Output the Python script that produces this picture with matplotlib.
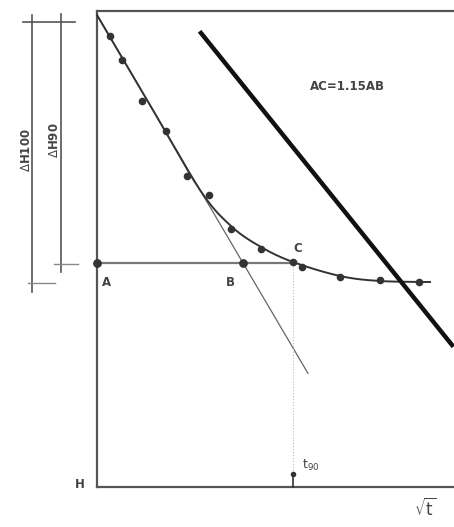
import numpy as np
import matplotlib
matplotlib.use('Agg')
import matplotlib.pyplot as plt

# measured points (sqrt(t) position, dial reading) in drawing units
sqrt_t = [110, 122, 142, 166, 187, 209, 231, 261, 293, 302, 340, 380, 419]
reading = [36, 60, 101, 131, 176, 195, 229, 249, 262, 267, 277, 280, 282]

# hand-drawn fitted curve through the readings
curve_x = [97, 150, 200, 231, 261, 293, 340, 380, 430]
curve_y = [15, 105, 190, 226, 247, 262, 276, 281, 282]

# key points
A = (97, 263)
B = (243, 263)
C = (293, 263)
tangent_start = (97, 15)
thick_line = [(201, 33), (452, 345)]


def catmull(xs, ys, n=16):
    # smooth drawing line through the control points
    px = np.r_[xs[0], xs, xs[-1]]
    py = np.r_[ys[0], ys, ys[-1]]
    ox, oy = [], []
    for i in range(1, len(px) - 2):
        t = np.linspace(0, 1, n, endpoint=False)
        for p, o in ((px, ox), (py, oy)):
            p0, p1, p2, p3 = p[i - 1], p[i], p[i + 1], p[i + 2]
            o.extend(0.5 * (2 * p1 + (-p0 + p2) * t + (2 * p0 - 5 * p1 + 4 * p2 - p3) * t ** 2
                            + (-p0 + 3 * p1 - 3 * p2 + p3) * t ** 3))
    ox.append(xs[-1])
    oy.append(ys[-1])
    return ox, oy


fig = plt.figure(figsize=(4.54, 5.27), dpi=100)
ax = fig.add_axes([0, 0, 1, 1])
ax.set_xlim(0, 454)
ax.set_ylim(527, 0)
ax.axis('off')

grey = '#555555'
# frame
ax.plot([97, 97], [11, 487], color=grey, lw=1.6)
ax.plot([97, 454], [11, 11], color=grey, lw=1.6)
ax.plot([97, 454], [487, 487], color=grey, lw=1.6)

# dimension lines dH100 / dH90
ax.plot([32, 32], [15, 292], color=grey, lw=1.2)
ax.plot([23, 75], [22, 22], color=grey, lw=1.2)
ax.plot([28, 55], [283, 283], color='#888888', lw=1.0)
ax.plot([61, 61], [14, 272], color=grey, lw=1.2)
ax.plot([54, 78], [264, 264], color='#888888', lw=1.0)
ax.text(26, 150, '$\\Delta$H100', rotation=90, ha='center', va='center',
        fontsize=8.5, fontweight='bold', color='#444444')
ax.text(55, 140, '$\\Delta$H90', rotation=90, ha='center', va='center',
        fontsize=8.5, fontweight='bold', color='#444444')

# horizontal A-C
ax.plot([A[0], C[0]], [A[1], C[1]], color='#777777', lw=1.6)

# tangent line through B
slope = (B[1] - tangent_start[1]) / (B[0] - tangent_start[0])
ax.plot([tangent_start[0], 308], [tangent_start[1], tangent_start[1] + slope * (308 - tangent_start[0])],
        color='#666666', lw=0.9)

# t90 vertical dotted
ax.plot([C[0], C[0]], [C[1], 473], color='#bbbbbb', lw=0.8, ls=':')
ax.plot([C[0], C[0]], [473, 487], color='#333333', lw=1.2)
ax.plot(C[0], 474, marker='o', ms=3, color='#333333')

# curve and points
cx, cy = catmull(curve_x, curve_y)
ax.plot(cx, cy, color='#333333', lw=1.4)
ax.scatter(sqrt_t, reading, s=20, color='#333333', zorder=3)
ax.scatter([A[0], B[0]], [A[1], B[1]], s=28, color='#333333', zorder=3)

# thick line
ax.plot([p[0] for p in thick_line], [p[1] for p in thick_line], color='#111111', lw=3.2)

# labels
lab = dict(fontsize=8.5, fontweight='bold', color='#444444', ha='center', va='center')
ax.text(106, 282, 'A', **lab)
ax.text(230, 282, 'B', **lab)
ax.text(298, 248, 'C', **lab)
ax.text(80, 485, 'H', **lab)
ax.text(347, 86, 'AC=1.15AB', **lab)
ax.text(302, 465, 't$_{90}$', fontsize=9, color='#444444', ha='left', va='center')
ax.text(425, 509, r'$\sqrt{\mathrm{t}}$', fontsize=12, color='#444444', ha='center', va='center')

fig.savefig('out.png', dpi=100)
